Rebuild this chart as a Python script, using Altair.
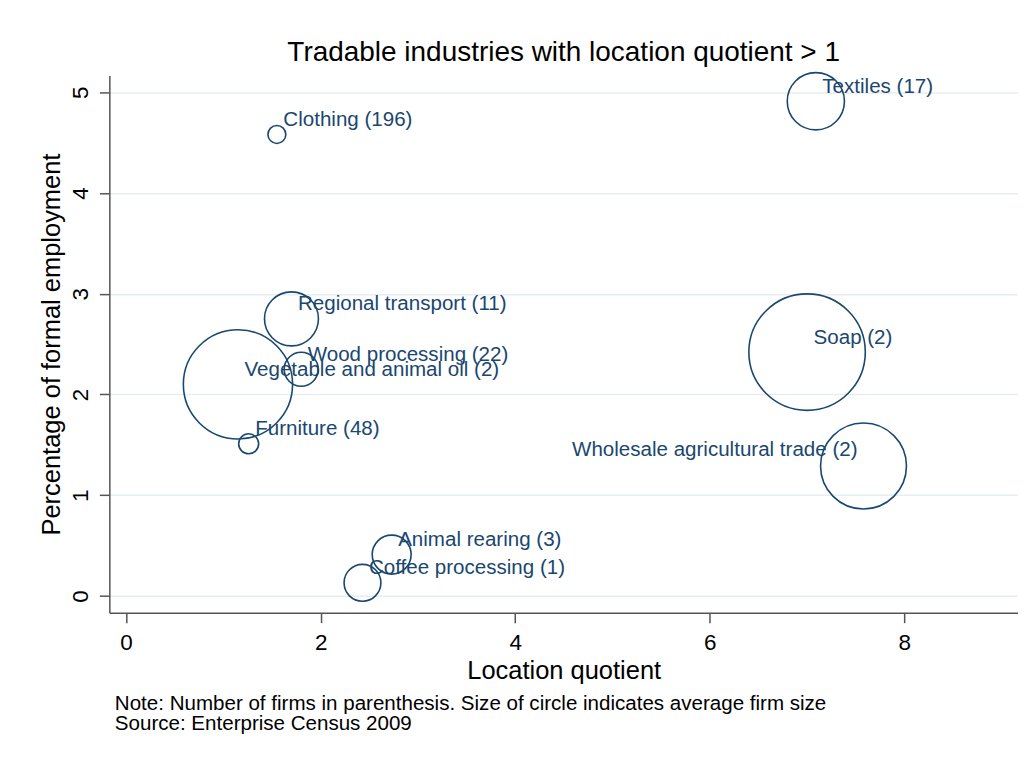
import altair as alt
import pandas as pd

# ---- data ----
industries = [
    "Clothing", "Textiles", "Regional transport", "Wood processing",
    "Vegetable and animal oil", "Furniture", "Animal rearing",
    "Coffee processing", "Soap", "Wholesale agricultural trade",
]
num_firms = [196, 17, 11, 22, 2, 48, 3, 1, 2, 2]
location_quotient = [1.55, 7.09, 1.70, 1.80, 1.15, 1.26, 2.73, 2.43, 7.00, 7.58]
pct_formal_employment = [4.58, 4.91, 2.75, 2.25, 2.10, 1.51, 0.41, 0.13, 2.42, 1.29]
# average firm size (relative, estimated from circle areas)
avg_firm_size = [8, 82, 73, 29, 299, 10, 38, 34, 340, 185]
labels_on_left = ["Wholesale agricultural trade"]

x_ticks = [0, 2, 4, 6, 8]
y_ticks = [0, 1, 2, 3, 4, 5]

title_text = "Tradable industries with location quotient > 1"
x_title = "Location quotient"
y_title = "Percentage of formal employment"
notes = [
    "Note: Number of firms in parenthesis. Size of circle indicates average firm size",
    "Source: Enterprise Census 2009",
]

# ---- styling ----
FONT = "Liberation Sans"
NAVY = "#1a476f"
AXIS_GRAY = "#555555"
GRID = "#e6eef1"
W, H = 910, 538

df = pd.DataFrame({
    "industry": industries,
    "firms": num_firms,
    "lq": location_quotient,
    "pct": pct_formal_employment,
    "size": avg_firm_size,
})
df["label"] = [f"{n} ({f})" for n, f in zip(industries, num_firms)]
df["side"] = ["left" if n in labels_on_left else "right" for n in industries]

x_enc = alt.X(
    "lq:Q",
    scale=alt.Scale(domain=[-0.172, -0.172 + W / 97.43], nice=False, zero=False),
    axis=alt.Axis(
        values=x_ticks, title=x_title, grid=False, format="d",
        labelFlush=False, labelPadding=9, labelFontSize=22.5,
        titleY=65.6, titleBaseline="alphabetic", titleFontSize=25.5,
    ),
)
y_enc = alt.Y(
    "pct:Q",
    scale=alt.Scale(domain=[-0.166, -0.166 + H / 100.9], nice=False, zero=False),
    axis=alt.Axis(
        values=y_ticks, title=y_title, grid=True, format="d",
        labelAngle=270, labelAlign="center", labelBaseline="alphabetic",
        labelPadding=11.5, labelFontSize=22.5, labelFlush=False,
        titleAngle=270, titleAlign="center", titleBaseline="alphabetic",
        titleX=-50.2, titleY=H / 2, titleFontSize=25.5,
    ),
)

base = alt.Chart(df)

points = base.mark_point(
    shape="circle", filled=False, strokeWidth=1.6, color=NAVY, opacity=1
).encode(
    x=x_enc, y=y_enc,
    size=alt.Size("size:Q", scale=alt.Scale(type="linear", domain=[0, 340], range=[0, 13600], zero=True), legend=None),
)

labels_right = base.mark_text(
    align="left", baseline="middle", dx=6.5, dy=-14.5,
    fontSize=20.6, font=FONT, color=NAVY,
).encode(x="lq:Q", y="pct:Q", text="label:N").transform_filter(alt.datum.side == "right")

labels_left = base.mark_text(
    align="right", baseline="middle", dx=-6, dy=-15.5,
    fontSize=20.6, font=FONT, color=NAVY,
).encode(x="lq:Q", y="pct:Q", text="label:N").transform_filter(alt.datum.side == "left")

note_df = pd.DataFrame({"t": ["\n".join(notes)]})
note = alt.Chart(note_df).mark_text(
    align="left", baseline="alphabetic", lineBreak="\n", lineHeight=20.7,
    fontSize=20.6, font=FONT, color="black",
).encode(x=alt.value(5.5), y=alt.value(635), text="t:N")

chart = alt.layer(points, labels_right, labels_left, note).properties(
    width=W, height=H,
    title=alt.TitleParams(
        title_text, fontSize=28, font=FONT, fontWeight="normal", color="black",
        anchor="middle", baseline="alphabetic", offset=9, dy=29,
    ),
    autosize=alt.AutoSizeParams(type="none"),
    padding={"left": 101.5, "top": 67, "right": 0, "bottom": 140},
    background="white",
).configure_view(stroke=None).configure_axis(
    domainColor=AXIS_GRAY, domainWidth=1.5,
    tickColor=AXIS_GRAY, tickWidth=1.5, tickSize=10,
    labelFont=FONT, labelColor="black",
    titleFont=FONT, titleColor="black", titleFontWeight="normal",
    gridColor=GRID, gridWidth=1.5,
)

chart.save("out.html", embed_options={"renderer": "svg", "actions": False})
